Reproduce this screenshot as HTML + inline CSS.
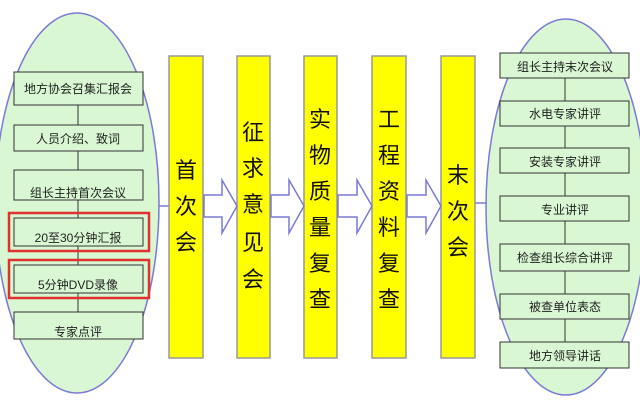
<!DOCTYPE html>
<html><head><meta charset="utf-8"><style>
body{margin:0;background:#fff;width:640px;height:401px;overflow:hidden}
svg text{font-family:"Liberation Sans","Noto Sans CJK SC",sans-serif}
</style></head><body>
<svg width="640" height="401" viewBox="0 0 640 401">
<ellipse cx="77" cy="203" rx="82" ry="190" fill="#d9f7d3" stroke="#7a7ad8" stroke-width="1.5"/>
<ellipse cx="566" cy="207" rx="80" ry="188" fill="#d9f7d3" stroke="#7a7ad8" stroke-width="1.5"/>
<line x1="159" y1="206" x2="169" y2="206" stroke="#7a7ad8" stroke-width="1.5"/>
<line x1="474" y1="203" x2="487" y2="203" stroke="#7a7ad8" stroke-width="1.5"/>
<g stroke="#333" stroke-width="1">
<line x1="78" y1="105" x2="78" y2="312"/>
<line x1="565" y1="78" x2="565" y2="342"/>
</g>
<g fill="#d9f7d3" stroke="#333" stroke-width="1">
<rect x="14" y="72" width="129" height="33"/>
<rect x="14" y="125" width="129" height="26"/>
<rect x="14" y="170" width="129" height="30"/>
<rect x="14" y="218" width="129" height="28"/>
<rect x="14" y="265" width="129" height="28"/>
<rect x="14" y="312" width="129" height="27"/>
<rect x="500" y="53" width="129" height="25"/>
<rect x="500" y="101" width="129" height="25"/>
<rect x="500" y="148" width="129" height="25"/>
<rect x="500" y="196" width="129" height="25"/>
<rect x="500" y="244" width="129" height="27"/>
<rect x="500" y="294" width="129" height="25"/>
<rect x="500" y="342" width="129" height="26"/>
</g>
<g fill="none" stroke="#e03030" stroke-width="2.5">
<rect x="9" y="213" width="140" height="38"/>
<rect x="9" y="260" width="140" height="38"/>
</g>
<g font-size="12" fill="#222" text-anchor="middle">
<text x="78" y="93">地方协会召集汇报会</text>
<text x="78" y="143">人员介绍、致词</text>
<text x="78" y="197">组长主持首次会议</text>
<text x="78" y="242">20至30分钟汇报</text>
<text x="78" y="289">5分钟DVD录像</text>
<text x="78" y="336">专家点评</text>
<text x="565" y="71">组长主持末次会议</text>
<text x="565" y="118">水电专家讲评</text>
<text x="565" y="166">安装专家讲评</text>
<text x="565" y="214">专业讲评</text>
<text x="565" y="262">检查组长综合讲评</text>
<text x="565" y="311">被查单位表态</text>
<text x="565" y="360">地方领导讲话</text>
</g>
<g fill="#ffff00" stroke="#999" stroke-width="1.5">
<rect x="169" y="56" width="34" height="302"/>
<rect x="237" y="56" width="33" height="302"/>
<rect x="304" y="56" width="33" height="302"/>
<rect x="372" y="56" width="34" height="302"/>
<rect x="441" y="56" width="34" height="302"/>
</g>
<g fill="#fff" stroke="#7a7ad8" stroke-width="1.5">
<polygon points="204,195 222,195 222,180 237,206 222,233 222,217 204,217"/>
<polygon points="271,195 289,195 289,180 304,206 289,233 289,217 271,217"/>
<polygon points="338,195 357,195 357,180 372,206 357,233 357,217 338,217"/>
<polygon points="407,195 426,195 426,180 441,206 426,233 426,217 407,217"/>
</g>
<g font-size="22" fill="#111" text-anchor="middle">
<text x="186" y="178">首</text><text x="186" y="214">次</text><text x="186" y="250">会</text>
<text x="253" y="140">征</text><text x="253" y="176">求</text><text x="253" y="212">意</text><text x="253" y="250">见</text><text x="253" y="287">会</text>
<text x="320" y="127">实</text><text x="320" y="163">物</text><text x="320" y="199">质</text><text x="320" y="235">量</text><text x="320" y="271">复</text><text x="320" y="307">查</text>
<text x="389" y="127">工</text><text x="389" y="163">程</text><text x="389" y="199">资</text><text x="389" y="235">料</text><text x="389" y="271">复</text><text x="389" y="307">查</text>
<text x="458" y="183">末</text><text x="458" y="219">次</text><text x="458" y="255">会</text>
</g>
</svg>
</body></html>
